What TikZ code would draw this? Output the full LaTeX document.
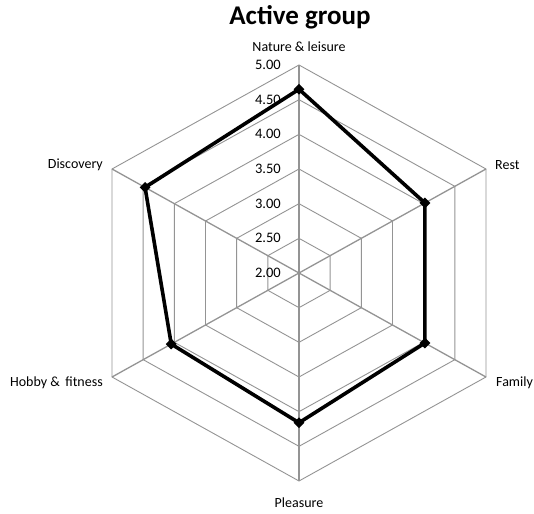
\documentclass[tikz,border=0pt]{standalone}
\usepackage{fontspec}
\setmainfont{Carlito}
\usetikzlibrary{shapes.geometric}
\begin{document}
\begin{tikzpicture}[x=1.038pt, y=1pt,
  grid/.style={draw=black!42, line width=0.9pt},
  spoke/.style={draw=black!42, line width=1.3pt},
  dataline/.style={draw=black, line width=3.6pt, line join=miter},
  marker/.style={fill=black, diamond, minimum size=11pt, inner sep=0pt},
  axlabel/.style={font=\fontsize{14}{16}\selectfont, inner sep=0pt},
  ticklabel/.style={font=\fontsize{14.5}{16}\selectfont, inner sep=0pt, anchor=east},
  titlelabel/.style={font=\fontsize{27}{30}\selectfont\bfseries, inner sep=0pt}]
\path[use as bounding box, fill=white] (-299pt,-240pt) rectangle (235pt,273pt);
% rings
\foreach \i in {1,...,6} {
  \draw[grid] (90:{\i*208/6}) -- (30:{\i*208/6}) -- (-30:{\i*208/6}) -- (-90:{\i*208/6}) -- (210:{\i*208/6}) -- (150:{\i*208/6}) -- cycle;
}
\coordinate (o) at (0,0);
\foreach \a/\n in {90/vN,30/vR,-30/vF,-90/vP,210/vH,150/vD} {
  \coordinate (\n) at (\a:208);
  \draw[spoke] (o) -- (\n);
}
% tick labels
\foreach \i/\t in {0/2.00,1/2.50,2/3.00,3/3.50,4/4.00,5/4.50,6/5.00} {
  \node[ticklabel] (t\i) at ({-18pt},{\i*208/6*1pt}) {\t};
}
% data
\coordinate (dN) at (90:{(4.65-2)/3*208});
\coordinate (dR) at (30:{(4.02-2)/3*208});
\coordinate (dF) at (-30:{(4.02-2)/3*208});
\coordinate (dP) at (-90:{(4.16-2)/3*208});
\coordinate (dH) at (210:{(4.05-2)/3*208});
\coordinate (dD) at (150:{(4.47-2)/3*208});
\draw[dataline] (dN) -- (dR) -- (dF) -- (dP) -- (dH) -- (dD) -- cycle;
\foreach \n in {dN,dR,dF,dP,dH,dD} { \node[marker] (m\n) at (\n) {}; }
% axis labels
\node[axlabel] (lN) at (0pt,226pt) {Nature \& leisure};
\node[axlabel, anchor=west] (lR) at (196pt,108pt) {Rest};
\node[axlabel, anchor=west] (lF) at (197pt,-110pt) {Family};
\node[axlabel] (lP) at (0pt,-230pt) {Pleasure};
\node[axlabel, anchor=east] (lH) at (-196pt,-110pt) {Hobby \& \,fitness};
\node[axlabel, anchor=east] (lD) at (-196pt,108pt) {Discovery};
\node[titlelabel] (title) at (1pt,256pt) {Active group};
\end{tikzpicture}
\end{document}
